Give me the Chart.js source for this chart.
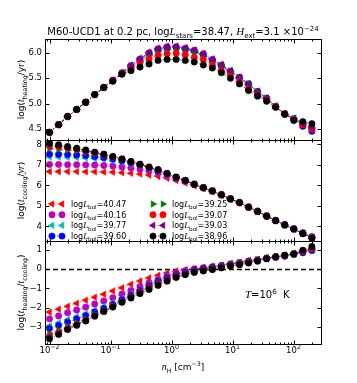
<!DOCTYPE html>
<html>
<head>
<meta charset="utf-8">
<script src="https://cdn.jsdelivr.net/npm/chart.js@4.4.0/dist/chart.umd.min.js"></script>
<style>
  html, body { margin: 0; padding: 0; background: #fff; }
  #wrap { position: relative; width: 357px; height: 383px; }
  canvas { position: absolute; left: 0; top: 0; }
</style>
</head>
<body>
<div id="wrap">
  <canvas id="heatChart" width="357" height="383"></canvas>
  <canvas id="coolChart" width="357" height="383"></canvas>
  <canvas id="ratioChart" width="357" height="383"></canvas>
</div>
<script>
// density grid (cm^-3)
const nH = [0.01, 0.0141, 0.0198, 0.0279, 0.0392, 0.0551, 0.0776, 0.109, 0.154, 0.216, 0.304, 0.428, 0.602, 0.846, 1.19, 1.68, 2.36, 3.32, 4.67, 6.57, 9.24, 13.0, 18.3, 25.7, 36.2, 50.9, 71.7, 101, 142, 200];
const lbol = ['40.47', '40.16', '39.77', '39.60', '39.25', '39.07', '39.03', '38.96'];

// log(t_heating/yr)
const heat4047 = [4.44,4.59,4.75,4.89,5.03,5.18,5.32,5.46,5.61,5.76,5.89,6.01,6.09,6.13,6.13,6.10,6.05,5.98,5.88,5.77,5.65,5.52,5.39,5.25,5.11,4.96,4.81,4.72,4.62,4.55];
const heat4016 = [4.44,4.59,4.75,4.89,5.03,5.18,5.32,5.46,5.61,5.75,5.88,6.00,6.08,6.12,6.12,6.09,6.05,5.98,5.87,5.76,5.64,5.51,5.38,5.23,5.10,4.94,4.79,4.70,4.60,4.52];
const heat3977 = [4.44,4.59,4.75,4.89,5.03,5.18,5.32,5.46,5.60,5.74,5.87,5.99,6.07,6.10,6.11,6.08,6.04,5.97,5.86,5.75,5.64,5.52,5.39,5.24,5.11,4.95,4.80,4.71,4.61,4.53];
const heat3960 = [4.44,4.59,4.75,4.89,5.03,5.18,5.32,5.46,5.60,5.73,5.86,5.98,6.06,6.09,6.10,6.07,6.03,5.96,5.85,5.74,5.63,5.52,5.39,5.24,5.11,4.95,4.80,4.70,4.56,4.46];
const heat3925 = [4.44,4.59,4.75,4.89,5.03,5.18,5.32,5.46,5.60,5.72,5.83,5.95,6.03,6.06,6.07,6.04,6.00,5.93,5.82,5.74,5.64,5.52,5.39,5.24,5.11,4.95,4.80,4.71,4.61,4.53];
const heat3907 = [4.44,4.59,4.75,4.89,5.03,5.18,5.32,5.46,5.59,5.70,5.80,5.88,5.95,5.98,5.99,5.96,5.91,5.87,5.76,5.65,5.57,5.44,5.29,5.18,5.08,4.94,4.80,4.69,4.59,4.50];
const heat3903 = [4.44,4.59,4.75,4.89,5.03,5.18,5.32,5.46,5.61,5.75,5.88,6.00,6.08,6.11,6.12,6.09,6.05,5.98,5.87,5.76,5.65,5.52,5.39,5.24,5.11,4.95,4.80,4.71,4.61,4.53];
const heat3896 = [4.44,4.59,4.75,4.89,5.03,5.18,5.32,5.44,5.58,5.65,5.72,5.78,5.85,5.87,5.87,5.85,5.82,5.76,5.70,5.61,5.50,5.39,5.26,5.15,5.05,4.93,4.80,4.67,4.65,4.61];

// log(t_cooling/yr)
const cool4047 = [6.67,6.67,6.67,6.67,6.66,6.66,6.65,6.64,6.62,6.59,6.55,6.50,6.44,6.35,6.24,6.12,5.98,5.84,5.69,5.51,5.32,5.14,4.93,4.72,4.50,4.28,4.07,3.87,3.67,3.46];
const cool4016 = [7.02,7.02,7.01,7.01,7.00,6.99,6.97,6.94,6.90,6.85,6.78,6.70,6.60,6.47,6.33,6.19,6.03,5.87,5.71,5.53,5.33,5.15,4.94,4.73,4.51,4.29,4.08,3.88,3.67,3.47];
const cool3977 = [7.38,7.37,7.36,7.35,7.33,7.30,7.26,7.20,7.13,7.04,6.94,6.82,6.70,6.54,6.38,6.22,6.05,5.88,5.72,5.54,5.34,5.16,4.94,4.73,4.50,4.28,4.07,3.87,3.66,3.45];
const cool3960 = [7.52,7.51,7.50,7.48,7.45,7.41,7.36,7.29,7.20,7.10,6.99,6.86,6.73,6.56,6.39,6.23,6.05,5.89,5.73,5.55,5.35,5.17,4.95,4.75,4.52,4.30,4.09,3.89,3.69,3.50];
const cool3925 = [7.78,7.75,7.71,7.67,7.61,7.54,7.46,7.37,7.26,7.14,7.01,6.88,6.75,6.57,6.40,6.24,6.06,5.89,5.73,5.54,5.34,5.16,4.94,4.73,4.50,4.28,4.07,3.87,3.66,3.45];
const cool3907 = [7.92,7.88,7.82,7.76,7.68,7.59,7.50,7.39,7.28,7.15,7.02,6.89,6.76,6.58,6.40,6.24,6.06,5.89,5.73,5.54,5.34,5.16,4.94,4.73,4.50,4.28,4.07,3.87,3.66,3.45];
const cool3903 = [7.95,7.91,7.85,7.78,7.70,7.60,7.51,7.40,7.28,7.16,7.03,6.89,6.76,6.58,6.40,6.24,6.06,5.89,5.73,5.54,5.34,5.16,4.94,4.73,4.50,4.28,4.07,3.87,3.66,3.45];
const cool3896 = [8.06,7.98,7.89,7.81,7.72,7.62,7.52,7.41,7.29,7.16,7.03,6.89,6.76,6.58,6.40,6.24,6.06,5.89,5.73,5.54,5.34,5.16,4.94,4.73,4.50,4.28,4.07,3.87,3.64,3.42];

// log(t_heating/t_cooling)
const ratio4047 = [-2.23,-2.08,-1.93,-1.77,-1.61,-1.46,-1.30,-1.13,-0.96,-0.78,-0.61,-0.45,-0.31,-0.19,-0.09,-0.02,0.04,0.09,0.15,0.21,0.29,0.36,0.44,0.51,0.59,0.66,0.73,0.83,0.93,1.06];
const ratio4016 = [-2.58,-2.43,-2.26,-2.12,-1.97,-1.81,-1.65,-1.48,-1.29,-1.10,-0.90,-0.70,-0.52,-0.33,-0.19,-0.08,0.02,0.08,0.13,0.20,0.28,0.35,0.43,0.50,0.58,0.64,0.72,0.80,0.90,1.02];
const ratio3977 = [-2.94,-2.78,-2.61,-2.46,-2.30,-2.12,-1.94,-1.74,-1.52,-1.29,-1.07,-0.80,-0.60,-0.42,-0.26,-0.13,-0.03,0.05,0.11,0.18,0.27,0.34,0.42,0.49,0.58,0.64,0.71,0.80,0.91,1.04];
const ratio3960 = [-3.08,-2.92,-2.75,-2.59,-2.42,-2.23,-2.04,-1.83,-1.59,-1.35,-1.10,-0.85,-0.64,-0.45,-0.28,-0.15,-0.04,0.04,0.10,0.17,0.25,0.32,0.41,0.47,0.56,0.62,0.68,0.77,0.86,0.97];
const ratio3925 = [-3.34,-3.16,-2.96,-2.78,-2.58,-2.36,-2.14,-1.91,-1.65,-1.39,-1.15,-0.90,-0.69,-0.49,-0.32,-0.19,-0.08,0.01,0.07,0.18,0.27,0.34,0.42,0.49,0.58,0.64,0.71,0.81,0.92,1.05];
const ratio3907 = [-3.48,-3.29,-3.07,-2.87,-2.65,-2.41,-2.18,-1.93,-1.69,-1.45,-1.19,-0.97,-0.76,-0.56,-0.38,-0.25,-0.13,-0.05,0.02,0.10,0.20,0.27,0.36,0.45,0.56,0.64,0.71,0.80,0.92,1.06];
const ratio3903 = [-3.51,-3.32,-3.10,-2.89,-2.67,-2.42,-2.19,-1.94,-1.67,-1.41,-1.12,-0.86,-0.65,-0.45,-0.28,-0.15,-0.04,0.05,0.11,0.19,0.28,0.34,0.43,0.50,0.59,0.65,0.72,0.82,0.93,1.07];
const ratio3896 = [-3.62,-3.39,-3.14,-2.92,-2.69,-2.44,-2.20,-1.97,-1.72,-1.50,-1.27,-1.05,-0.84,-0.62,-0.43,-0.28,-0.17,-0.09,-0.02,0.07,0.16,0.23,0.32,0.42,0.55,0.65,0.73,0.80,0.99,1.18];

// tick labels
const heatTicks = [4.5, 5.0, 5.5, 6.0];
const coolTicks = [4, 5, 6, 7, 8];
const ratioTicks = [-3, -2, -1, 0, 1];
const xPowers = [-2, -1, 0, 1, 2];

// marker / colour per series (same order as lbol)
const styles = [
  { c: '#ff0000', p: 'triangle', rot: -90 },
  { c: '#bf00bf', p: 'circle' },
  { c: '#00bfbf', p: 'triangle', rot: -90 },
  { c: '#0000ff', p: 'circle' },
  { c: '#008000', p: 'triangle', rot: 90 },
  { c: '#ff0000', p: 'circle' },
  { c: '#800080', p: 'triangle', rot: -90 },
  { c: '#000000', p: 'circle' }
];

const SANS = 'DejaVu Sans', SERIF = 'Liberation Serif';
const font = (s, fam, st) => (st ? st + ' ' : '') + s + 'px "' + fam + '"';
const txt = (t, s) => ({ t, f: font(s, SANS) });
const it = (t, s) => ({ t, f: font(s * 1.1, SERIF, 'italic') });
const sub = (t, s) => ({ t, f: font(s * 0.7, SANS), dy: s * 0.28 });
const sup = (t, s) => ({ t, f: font(s * 0.7, SANS), dy: -s * 0.42 });

function rich(ctx, parts, x, y, align) {
  let w = 0;
  for (const p of parts) { ctx.font = p.f; w += ctx.measureText(p.t).width; }
  let cx = align === 'center' ? x - w / 2 : align === 'right' ? x - w : x;
  ctx.textAlign = 'left';
  ctx.textBaseline = 'alphabetic';
  for (const p of parts) {
    ctx.font = p.f;
    ctx.fillText(p.t, cx, y + (p.dy || 0));
    cx += ctx.measureText(p.t).width;
  }
}

function alpha(hex, a) {
  const n = parseInt(hex.slice(1), 16);
  return 'rgba(' + (n >> 16) + ',' + ((n >> 8) & 255) + ',' + (n & 255) + ',' + a + ')';
}

const CIRCLE_R = 3.2, TRI_R = 3.8;

function marker(ctx, k, x, y) {
  const s = styles[k];
  ctx.fillStyle = s.c;
  ctx.strokeStyle = s.c;
  ctx.lineWidth = 0.5;
  Chart.helpers.drawPoint(ctx, {
    pointStyle: s.p, rotation: s.rot || 0,
    radius: s.p === 'circle' ? CIRCLE_R : TRI_R, borderWidth: 0.5
  }, x, y);
}

const fmtMinus = v => (v < 0 ? '\u2212' + Math.abs(v) : String(v));

function makePanel(id, series, yMin, yMax, pad, deco) {
  const datasets = series.map((vals, k) => ({
    data: vals.map((v, i) => ({ x: nH[i], y: v })),
    borderColor: alpha(styles[k].c, 0.5),
    borderWidth: 1,
    borderDash: [3, 2, 1, 2],
    pointStyle: styles[k].p,
    pointRotation: styles[k].rot || 0,
    pointRadius: styles[k].p === 'circle' ? CIRCLE_R : TRI_R,
    pointBackgroundColor: styles[k].c,
    pointBorderColor: styles[k].c,
    pointBorderWidth: 0.5,
    fill: false,
    tension: 0,
    order: series.length - k
  }));

  const decor = {
    id: 'decor',
    beforeDatasetsDraw(chart) {
      if (deco.before) deco.before(chart);
    },
    afterDraw(chart) {
      const { ctx, chartArea: a, scales: { x, y } } = chart;
      const L = Math.round(a.left) + 0.5, R = Math.round(a.right) + 0.5;
      const T = Math.round(a.top) + 0.5, B = Math.round(a.bottom) + 0.5;
      ctx.save();
      ctx.strokeStyle = '#000';
      ctx.lineWidth = 1;
      ctx.setLineDash([]);
      ctx.strokeRect(L, T, R - L, B - T);
      ctx.beginPath();
      for (let p = -3; p <= 3; p++) {
        for (let m = 1; m <= 9; m++) {
          const v = m * Math.pow(10, p);
          if (v < x.min || v > x.max) continue;
          const px = Math.round(x.getPixelForValue(v)) + 0.5;
          const len = m === 1 ? 4 : 2;
          ctx.moveTo(px, B); ctx.lineTo(px, B - len);
          ctx.moveTo(px, T); ctx.lineTo(px, T + len);
        }
      }
      for (const v of deco.yTicks) {
        const py = Math.round(y.getPixelForValue(v)) + 0.5;
        ctx.moveTo(L, py); ctx.lineTo(L + 4, py);
        ctx.moveTo(R, py); ctx.lineTo(R - 4, py);
      }
      ctx.stroke();

      // y tick labels
      ctx.fillStyle = '#000';
      ctx.font = font(8.5, SANS);
      ctx.textAlign = 'right';
      ctx.textBaseline = 'middle';
      for (const v of deco.yTicks) {
        ctx.fillText(deco.yFmt(v), L - 3.5, y.getPixelForValue(v));
      }

      // y axis title, rotated
      ctx.save();
      ctx.translate(24, (a.top + a.bottom) / 2);
      ctx.rotate(-Math.PI / 2);
      rich(ctx, deco.yTitle, 0, 0, 'center');
      ctx.restore();

      if (deco.xLabels) {
        for (const p of xPowers) {
          const px = x.getPixelForValue(Math.pow(10, p));
          rich(ctx, [txt('10', 8.5), sup(fmtMinus(p), 9)], px, a.bottom + 9, 'center');
        }
        rich(ctx, [it('n', 9), sub('H', 9), txt(' [cm', 9), sup('\u22123', 9), txt(']', 9)],
          (a.left + a.right) / 2, a.bottom + 26, 'center');
      }
      if (deco.after) deco.after(chart);
      ctx.restore();
    }
  };

  return new Chart(document.getElementById(id), {
    type: 'line',
    data: { datasets },
    options: {
      responsive: false,
      animation: false,
      events: [],
      layout: { padding: pad, autoPadding: false },
      scales: {
        x: { type: 'logarithmic', min: 0.00843, max: 282, display: false },
        y: { type: 'linear', min: yMin, max: yMax, display: false }
      },
      plugins: { legend: { display: false }, tooltip: { enabled: false } }
    },
    plugins: [decor]
  });
}

// top panel: heating time
makePanel('heatChart',
  [heat4047, heat4016, heat3977, heat3960, heat3925, heat3907, heat3903, heat3896],
  4.29, 6.27, { left: 45, right: 36, top: 39, bottom: 243 }, {
    yTicks: heatTicks,
    yFmt: v => v.toFixed(1),
    yTitle: [txt('log(', 9), it('t', 9), sub('heating', 9), txt('/yr)', 9)],
    after(chart) {
      const { ctx, chartArea: a } = chart;
      ctx.fillStyle = '#000';
      rich(ctx, [txt('M60-UCD1 at 0.2 pc, log', 10), it('L', 10), sub('stars', 10),
        txt('=38.47, ', 10), it('H', 10), sub('ext', 10), txt('=3.1 \u00d710', 10), sup('\u221224', 10)],
        (a.left + a.right) / 2, a.top - 4, 'center');
    }
  });

// middle panel: cooling time + legend
makePanel('coolChart',
  [cool4047, cool4016, cool3977, cool3960, cool3925, cool3907, cool3903, cool3896],
  3.29, 8.21, { left: 45, right: 36, top: 140, bottom: 142 }, {
    yTicks: coolTicks,
    yFmt: v => String(v),
    yTitle: [txt('log(', 9), it('t', 9), sub('cooling', 9), txt('/', 9), it('yr', 9), txt(')', 9)],
    after(chart) {
      const { ctx, chartArea: a } = chart;
      lbol.forEach((lab, k) => {
        const col = Math.floor(k / 4), row = k % 4;
        const x0 = a.left + 7 + col * 101, yy = a.top + 64 + row * 10.7;
        ctx.save();
        ctx.strokeStyle = alpha(styles[k].c, 0.5);
        ctx.lineWidth = 1;
        ctx.setLineDash([3, 2, 1, 2]);
        ctx.beginPath(); ctx.moveTo(x0, yy); ctx.lineTo(x0 + 10, yy); ctx.stroke();
        ctx.setLineDash([]);
        marker(ctx, k, x0, yy);
        marker(ctx, k, x0 + 10, yy);
        ctx.restore();
        ctx.fillStyle = '#000';
        rich(ctx, [txt('log', 8), it('L', 8), sub('bol', 8), txt('=' + lab, 8)], x0 + 19, yy + 3, 'left');
      });
    }
  });

// bottom panel: ratio
makePanel('ratioChart',
  [ratio4047, ratio4016, ratio3977, ratio3960, ratio3925, ratio3907, ratio3903, ratio3896],
  -3.89, 1.47, { left: 45, right: 36, top: 241, bottom: 39 }, {
    yTicks: ratioTicks,
    yFmt: fmtMinus,
    yTitle: [txt('log(', 9), it('t', 9), sub('heating', 9), txt('/', 9), it('t', 9), sub('cooling', 9), txt(')', 9)],
    xLabels: true,
    before(chart) {
      const { ctx, chartArea: a, scales: { y } } = chart;
      const py = Math.round(y.getPixelForValue(0)) + 0.5;
      ctx.save();
      ctx.strokeStyle = '#000';
      ctx.lineWidth = 1.5;
      ctx.setLineDash([5, 3]);
      ctx.beginPath(); ctx.moveTo(a.left, py); ctx.lineTo(a.right, py); ctx.stroke();
      ctx.restore();
    },
    after(chart) {
      const { ctx, chartArea: a } = chart;
      ctx.fillStyle = '#000';
      rich(ctx, [it('T', 10), txt('=10', 10), sup('6', 10), txt('  K', 10)], a.left + 200, a.top + 57, 'left');
    }
  });
</script>
</body>
</html>
